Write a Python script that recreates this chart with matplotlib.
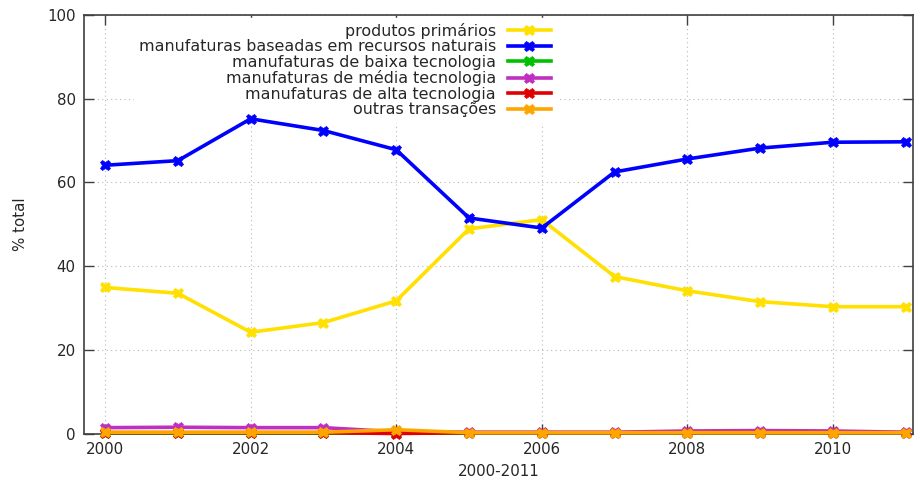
import matplotlib
matplotlib.use("Agg")
import matplotlib.pyplot as plt

anos = [2000, 2001, 2002, 2003, 2004, 2005, 2006, 2007, 2008, 2009, 2010, 2011]

produtos_primarios = [34.9, 33.5, 24.2, 26.5, 31.7, 48.9, 51.1, 37.5, 34.1, 31.5, 30.3, 30.3]
recursos_naturais = [64.1, 65.2, 75.2, 72.4, 67.8, 51.5, 49.1, 62.5, 65.6, 68.2, 69.6, 69.7]
baixa_tec = [0.1, 0.1, 0.1, 0.1, 0.1, 0.1, 0.1, 0.1, 0.1, 0.1, 0.1, 0.1]
media_tec = [1.4, 1.5, 1.4, 1.4, 0.4, 0.3, 0.3, 0.3, 0.6, 0.7, 0.6, 0.3]
alta_tec = [0.2, 0.2, 0.2, 0.2, 0.0, 0.2, 0.2, 0.2, 0.2, 0.2, 0.2, 0.2]
outras = [0.3, 0.3, 0.3, 0.3, 0.9, 0.2, 0.2, 0.2, 0.2, 0.2, 0.2, 0.2]

series = [
    ("produtos primários", produtos_primarios, "#ffe000"),
    ("manufaturas baseadas em recursos naturais", recursos_naturais, "#0000ff"),
    ("manufaturas de baixa tecnologia", baixa_tec, "#00c000"),
    ("manufaturas de média tecnologia", media_tec, "#c030c0"),
    ("manufaturas de alta tecnologia", alta_tec, "#e00000"),
    ("outras transações", outras, "#ffa500"),
]

fig = plt.figure(figsize=(9.15, 4.82), dpi=100)
ax = fig.add_axes([84 / 915, 1 - 433.5 / 482, 829 / 915, 418.5 / 482])

for nome, valores, cor in series:
    ax.plot(anos, valores, color=cor, lw=2.6, marker="X", ms=7.5,
            markeredgewidth=0.5, label=nome, clip_on=False, zorder=3)

ax.set_xlim(1999.71, 2011.1)
ax.set_ylim(0, 100)
ax.set_xticks([2000, 2002, 2004, 2006, 2008, 2010])
ax.set_yticks([0, 20, 40, 60, 80, 100])
ax.grid(True, color="#b8b8b8", linestyle=(0, (1, 3)), lw=0.8)
ax.set_axisbelow(True)

for lado in ax.spines.values():
    lado.set_color("#404040")
    lado.set_linewidth(1.2)
ax.tick_params(direction="in", top=True, right=True, length=7, width=1,
               color="#404040", labelsize=10.8, labelcolor="#262626", pad=6)

ax.set_xlabel("2000-2011", fontsize=10.8, color="#262626", labelpad=5)
ax.set_ylabel("% total", fontsize=10.8, color="#262626", labelpad=14)

# caixa da legenda opaca por cima da grade, mas abaixo das linhas
leg = ax.legend(loc="upper right", bbox_to_anchor=(556 / 915, 1 - 18 / 482),
                bbox_transform=fig.transFigure, markerfirst=False,
                fontsize=11.4, handlelength=2.75, handletextpad=0.75,
                labelspacing=0.03, borderpad=0.3, borderaxespad=0,
                frameon=True, fancybox=False)
leg.get_frame().set_facecolor("white")
leg.get_frame().set_edgecolor("white")
leg.get_frame().set_alpha(1)
leg.set_zorder(1.5)
for t in leg.get_texts():
    t.set_color("#262626")
    t.set_ha("right")

fig.savefig("out.png", dpi=100)
